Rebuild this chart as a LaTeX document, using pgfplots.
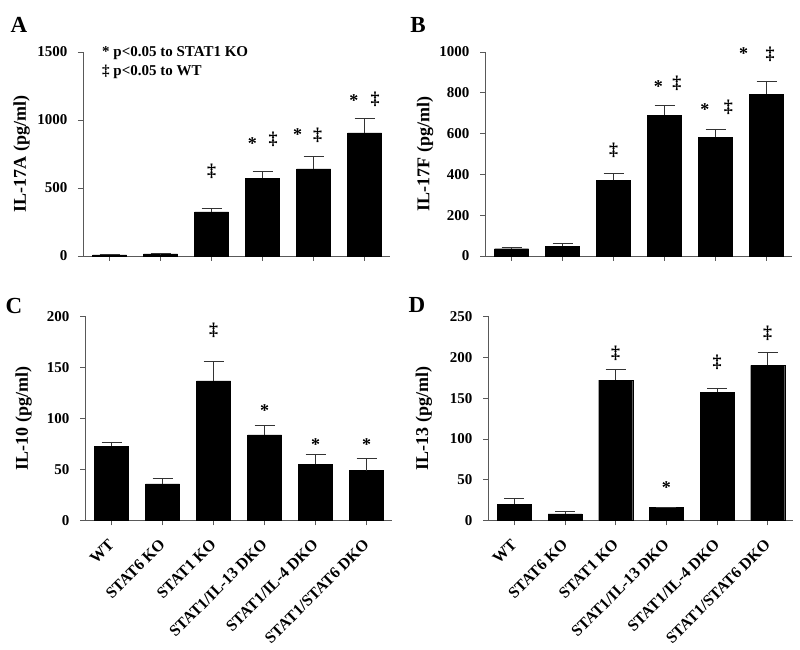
\documentclass[border=0pt]{standalone}
\usepackage{fontspec}
\setmainfont{Liberation Serif}
\usepackage{pgfplots}
\pgfplotsset{compat=1.18}
\pgfplotsset{
  panel/.style={
    scale only axis, width=307pt, height=204pt,
    axis lines=left, axis line style={black!65, line width=0.7pt, -},
    tick style={black!65, line width=0.7pt},
    tick align=outside, major tick length=5pt,
    xmin=-0.52, xmax=5.5, ymin=0,
    xtick={0,...,5},
    clip=false,
    font=\bfseries\fontsize{15}{18}\selectfont,
    /pgf/number format/assume math mode=true,
    scaled y ticks=false,
    yticklabel style={/pgf/number format/1000 sep={}, xshift=-7pt},
    ylabel style={font=\bfseries\fontsize{18}{21}\selectfont, anchor=center},
    every node near coord/.append style={anchor=center, font=\bfseries\fontsize{18}{20}\selectfont, inner sep=0pt},
  },
  bars/.style={ybar, bar width=34pt, fill=black, draw=black, line width=0.1pt,
    error bars/.cd, y dir=plus, y explicit,
    error bar style={black!80, line width=0.8pt},
    error mark options={rotate=90, black!80, line width=0.8pt, mark size=10pt}},
  ann/.style={draw=none, nodes near coords, point meta=explicit symbolic},
  catlabels/.style={xticklabels={WT, STAT6 KO, STAT1 KO, STAT1/IL-13 DKO, STAT1/IL-4 DKO, STAT1/STAT6 DKO},
    xticklabel style={font=\bfseries\fontsize{16}{18}\selectfont, xshift=-4pt, yshift=-11pt, rotate=45, anchor=north east, inner sep=1pt}},
}
\begin{document}
\begin{tikzpicture}
\useasboundingbox (0,0) rectangle (800pt,650pt);
% Panel A
\begin{axis}[panel, at={(83pt,394pt)}, anchor=south west,
  ymax=1500, ytick={0,500,1000,1500}, xticklabels={},
  ylabel={IL-17A (pg/ml)}, ylabel style={at={(axis description cs:-0.2,0.5)}}]
\addplot[bars] coordinates {(0,9) +- (0,0) (1,16) +- (0,2) (2,325) +- (0,25) (3,571) +- (0,52) (4,640) +- (0,93) (5,906) +- (0,106)};
\addplot[ann] coordinates {(2,620)[‡] (2.8,828)[*] (3.21,860)[‡] (3.69,896)[*] (4.08,890)[‡] (4.79,1144)[*] (5.21,1155)[‡]};
\end{axis}
% Panel B
\begin{axis}[panel, at={(485pt,394pt)}, anchor=south west,
  ymax=1000, ytick={0,200,...,1000}, xticklabels={},
  ylabel={IL-17F (pg/ml)}, ylabel style={at={(axis description cs:-0.195,0.5)}}]
\addplot[bars] coordinates {(0,36) +- (0,5) (1,47) +- (0,14) (2,371) +- (0,34) (3,690) +- (0,48) (4,582) +- (0,38) (5,793) +- (0,65)};
\addplot[ann] coordinates {(2,520)[‡] (2.88,830)[*] (3.24,846)[‡] (3.79,716)[*] (4.25,729)[‡] (4.55,990)[*] (5.07,990)[‡]};
\end{axis}
% Panel C
\begin{axis}[panel, at={(85pt,129.5pt)}, anchor=south west,
  ymax=200, ytick={0,50,...,200}, catlabels,
  ylabel={IL-10 (pg/ml)}, ylabel style={at={(axis description cs:-0.2,0.5)}}]
\addplot[bars] coordinates {(0,73) +- (0,4) (1,36) +- (0,5) (2,137) +- (0,19) (3,84) +- (0,9) (4,55) +- (0,10) (5,49) +- (0,12)};
\addplot[ann] coordinates {(2,186)[‡] (3,108)[*] (4,74)[*] (5,74)[*]};
\end{axis}
% Panel D
\begin{axis}[panel, at={(488pt,129.5pt)}, anchor=south west, width=305pt,
  ymax=250, ytick={0,50,...,250}, catlabels,
  ylabel={IL-13 (pg/ml)}, ylabel style={at={(axis description cs:-0.21,0.5)}}]
\addplot[bars] coordinates {(0,20) +- (0,7) (1,8) +- (0,3.5) (2,172) +- (0,13.5) (3,16) +- (0,0) (4,157) +- (0,5) (5,190) +- (0,16)};
\addplot[ann] coordinates {(2,205)[‡] (3,40)[*] (4,194)[‡] (5,230)[‡]};
\end{axis}
% panel letters and key
\node[font=\bfseries\fontsize{23}{26}\selectfont] at (19pt,625pt) {A};
\node[font=\bfseries\fontsize{23}{26}\selectfont] at (418pt,625pt) {B};
\node[font=\bfseries\fontsize{23}{26}\selectfont] at (14pt,344pt) {C};
\node[font=\bfseries\fontsize{23}{26}\selectfont] at (417pt,345pt) {D};
\node[font=\bfseries\fontsize{15}{18}\selectfont, anchor=west, inner sep=0pt] at (102pt,597pt) {* p<0.05 to STAT1 KO};
\node[font=\bfseries\fontsize{15}{18}\selectfont, anchor=west, inner sep=0pt] at (102pt,578pt) {‡ p<0.05 to WT};
\end{tikzpicture}
\end{document}
